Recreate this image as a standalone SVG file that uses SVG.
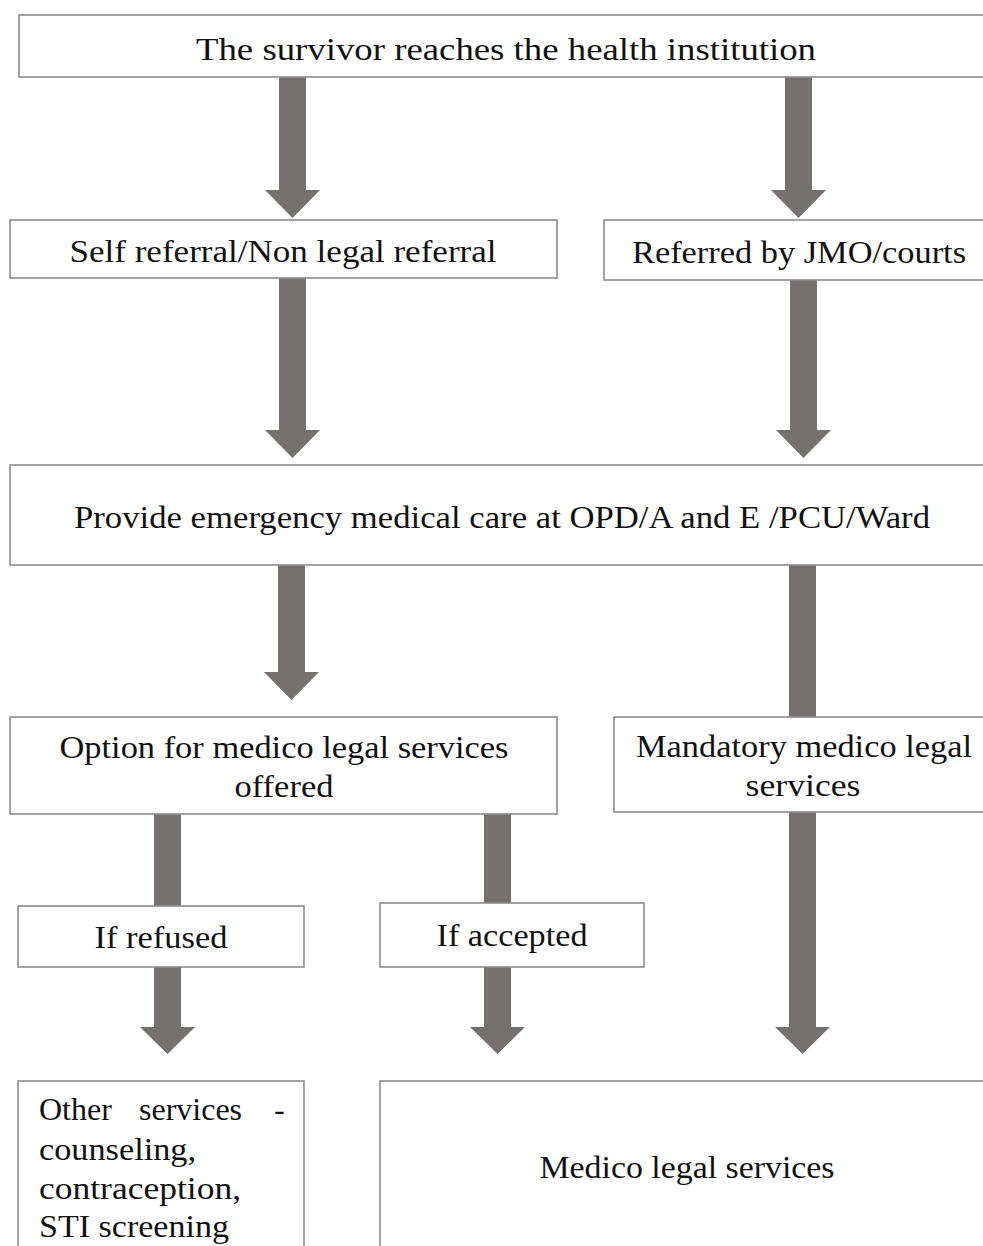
<svg xmlns="http://www.w3.org/2000/svg" width="983" height="1246" viewBox="0 0 983 1246">
<style>
.box{fill:#fff;stroke:#8c8c8c;stroke-width:1.6}
.t{font-family:"Liberation Serif","DejaVu Serif",serif;font-size:32px;fill:#111;text-anchor:middle}
.tl{font-family:"Liberation Serif","DejaVu Serif",serif;font-size:32px;fill:#111}
.arr{fill:#767171}
</style>
<rect width="983" height="1246" fill="#fff"/>
<g id="connectors">
<path class="arr" d="M279 77H306V190H320L292.5 218L265 190H279Z"/>
<path class="arr" d="M785 77H812V190H826L798.5 218L771 190H785Z"/>
<path class="arr" d="M279 278H306V430H320L292.5 458L265 430H279Z"/>
<path class="arr" d="M790 280H817V430H831L803.5 458L776 430H790Z"/>
<path class="arr" d="M278 565H305V672H319L291.5 700L264 672H278Z"/>
<rect class="arr" x="789" y="565" width="27" height="152"/>
<rect class="arr" x="154" y="814" width="27" height="92"/>
<rect class="arr" x="484" y="814" width="27" height="89"/>
<path class="arr" d="M789 812H816V1027H830L802.5 1054L775 1027H789Z"/>
<path class="arr" d="M154 967H181V1027H195L167.5 1054L140 1027H154Z"/>
<path class="arr" d="M484 967H511V1027H525L497.5 1054L470 1027H484Z"/>
</g>
<g id="n1"><rect class="box" x="19" y="15" width="980" height="62"/><text class="t" x="506" y="60" textLength="620" lengthAdjust="spacingAndGlyphs">The survivor reaches the health institution</text></g>
<g id="n2"><rect class="box" x="10" y="220" width="547" height="58"/><text class="t" x="283" y="262" textLength="427" lengthAdjust="spacingAndGlyphs">Self referral/Non legal referral</text></g>
<g id="n3"><rect class="box" x="604" y="220" width="395" height="60"/><text class="t" x="799" y="263" textLength="334" lengthAdjust="spacingAndGlyphs">Referred by JMO/courts</text></g>
<g id="n4"><rect class="box" x="10" y="465" width="989" height="100"/><text class="t" x="502" y="528" textLength="856" lengthAdjust="spacingAndGlyphs">Provide emergency medical care at OPD/A and E /PCU/Ward</text></g>
<g id="n5"><rect class="box" x="10" y="717" width="547" height="97"/><text class="t" x="284" y="758" textLength="449" lengthAdjust="spacingAndGlyphs">Option for medico legal services</text><text class="t" x="284" y="797" textLength="99" lengthAdjust="spacingAndGlyphs">offered</text></g>
<g id="n6"><rect class="box" x="614" y="717" width="385" height="95"/><text class="t" x="804" y="757" textLength="336" lengthAdjust="spacingAndGlyphs">Mandatory medico legal</text><text class="t" x="803" y="796" textLength="115" lengthAdjust="spacingAndGlyphs">services</text></g>
<g id="n7"><rect class="box" x="18" y="906" width="286" height="61"/><text class="t" x="161" y="948" textLength="133" lengthAdjust="spacingAndGlyphs">If refused</text></g>
<g id="n8"><rect class="box" x="380" y="903" width="264" height="64"/><text class="t" x="512" y="946" textLength="151" lengthAdjust="spacingAndGlyphs">If accepted</text></g>
<g id="n9"><rect class="box" x="18" y="1081" width="286" height="180"/>
<text class="tl" y="1120"><tspan x="39">Other</tspan><tspan x="139">services</tspan><tspan x="274">-</tspan></text>
<text class="tl" x="39" y="1160" textLength="157" lengthAdjust="spacingAndGlyphs">counseling,</text>
<text class="tl" x="39" y="1199" textLength="202" lengthAdjust="spacingAndGlyphs">contraception,</text>
<text class="tl" x="39" y="1237" textLength="190" lengthAdjust="spacingAndGlyphs">STI screening</text></g>
<g id="n10"><rect class="box" x="380" y="1081" width="619" height="180"/><text class="t" x="687" y="1178" textLength="295" lengthAdjust="spacingAndGlyphs">Medico legal services</text></g>
</svg>
